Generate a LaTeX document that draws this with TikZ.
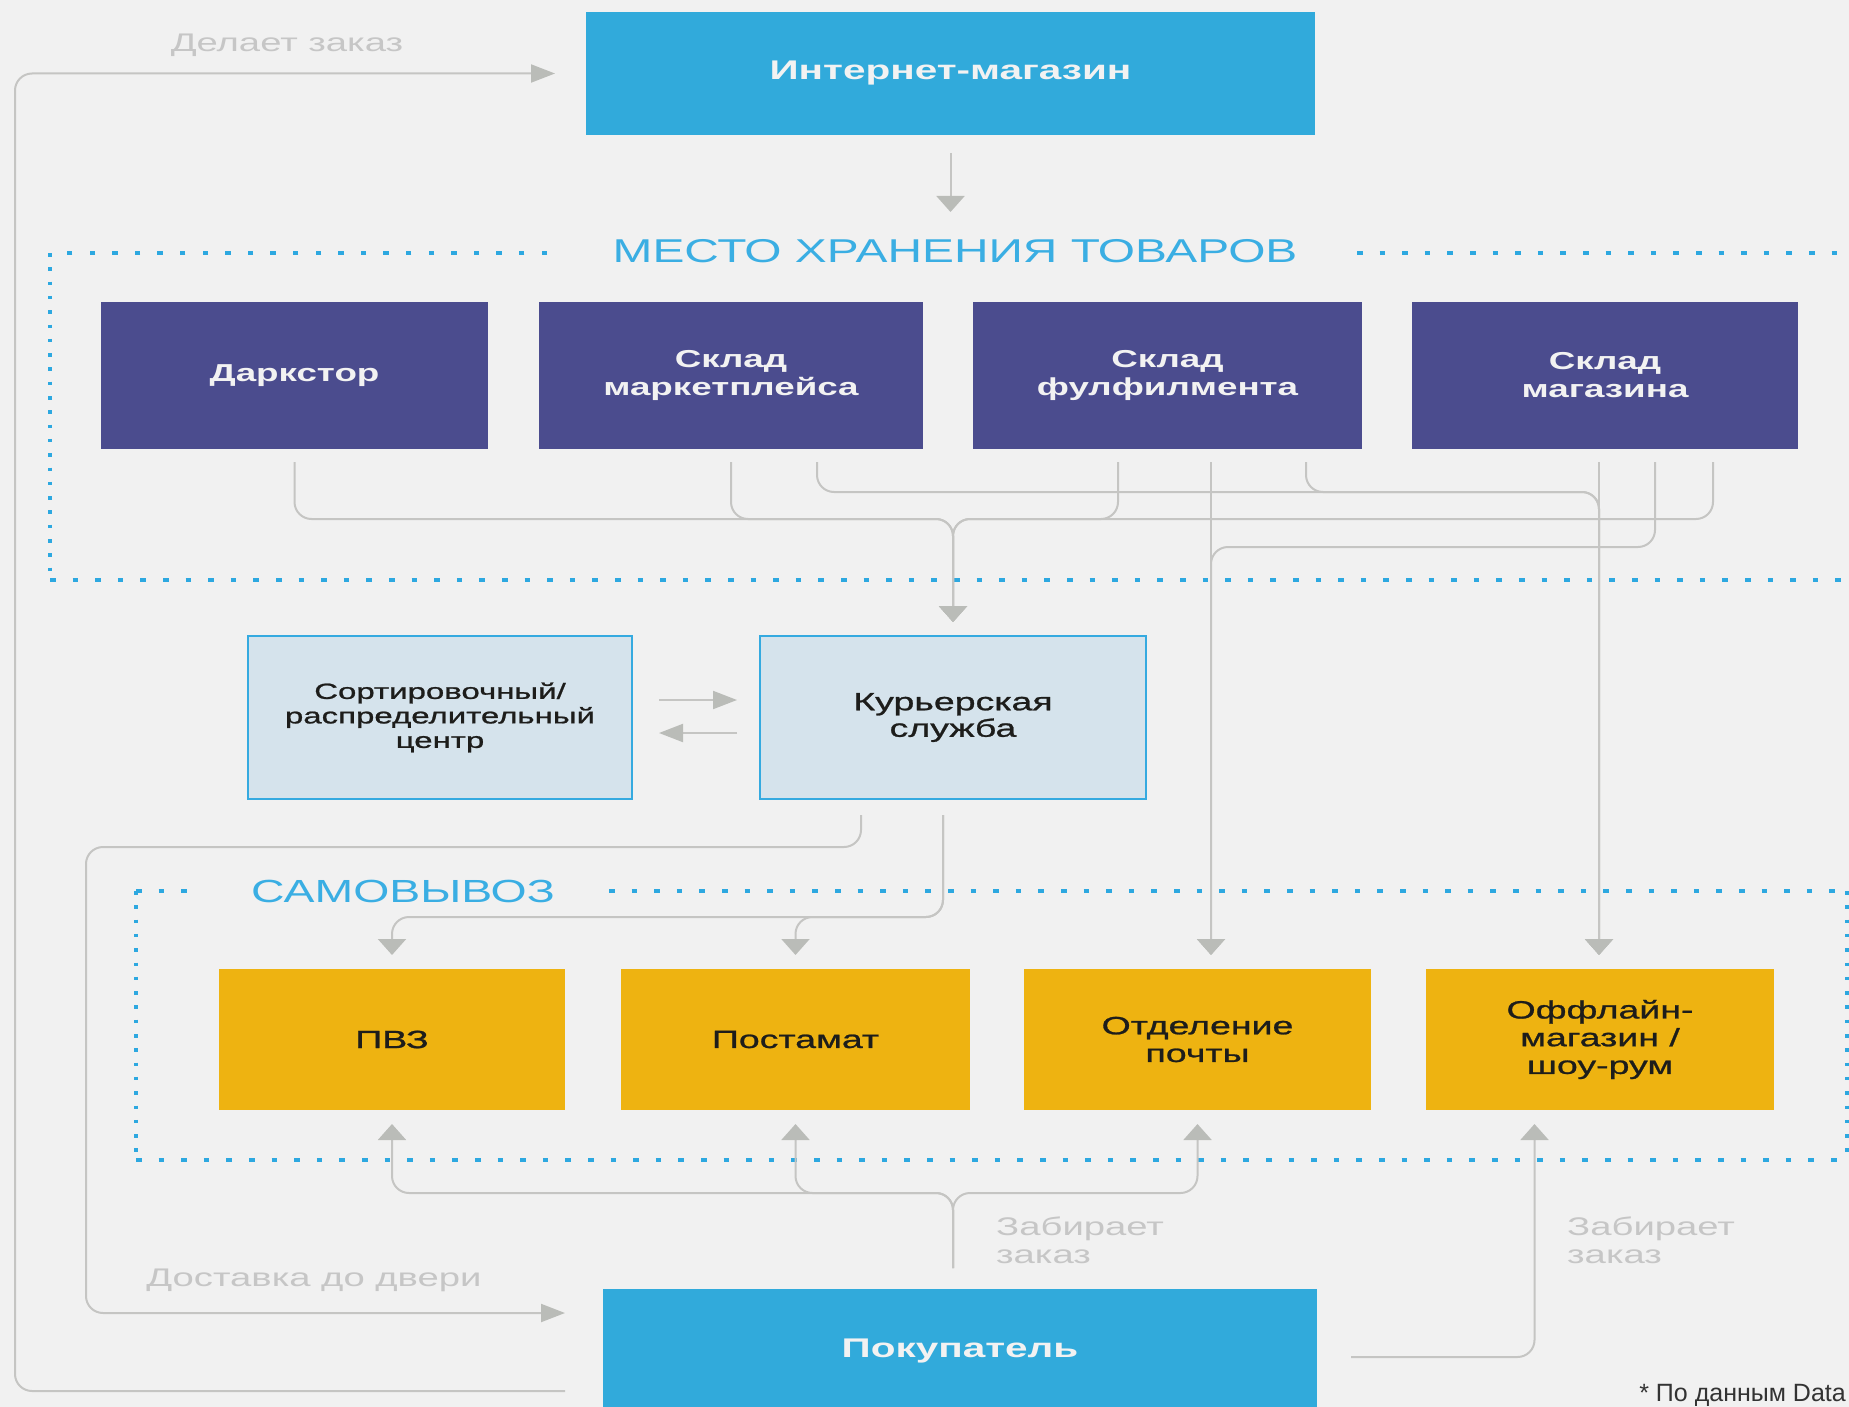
\documentclass[tikz,border=0pt]{standalone}
\usepackage{fontspec}
\setmainfont{Liberation Sans}
\newfontfamily\widefont[FakeStretch=1.5]{Liberation Sans}
\newfontfamily\medfont[FakeStretch=1.5,FakeBold=1.0]{Liberation Sans}
\newfontfamily\ttlfont[FakeStretch=1.45]{Liberation Sans}
\usetikzlibrary{arrows.meta,calc}
\definecolor{bgcol}{HTML}{F1F1F1}
\definecolor{shopblue}{HTML}{31AADB}
\definecolor{purp}{HTML}{4B4C8E}
\definecolor{lightfill}{HTML}{D5E3EC}
\definecolor{lightborder}{HTML}{35AAE0}
\definecolor{yel}{HTML}{EEB311}
\definecolor{linegray}{HTML}{C5C5C3}
\definecolor{arrowgray}{HTML}{BABCB8}
\definecolor{lblgray}{HTML}{C6C6C6}
\definecolor{dotblue}{HTML}{2DA8E0}
\definecolor{ttlblue}{HTML}{3AAEE3}
\definecolor{boxwhite}{HTML}{F2F2F2}
\definecolor{darktext}{HTML}{1D1D1B}
\definecolor{foot}{HTML}{333333}
\begin{document}
\begin{tikzpicture}[x=1pt,y=-1pt,
  basebox/.style={inner sep=0pt, outer sep=0pt, align=center},
  bluebox/.style={basebox, fill=shopblue, text=boxwhite, font=\widefont\bfseries\fontsize{27}{30}\selectfont},
  purplebox/.style={basebox, fill=purp, text=boxwhite, minimum height=147pt, font=\widefont\bfseries\fontsize{24.5}{28}\selectfont},
  lightbox/.style={basebox, fill=lightfill, draw=lightborder, line width=2.2pt, minimum height=163pt, text=darktext},
  yellowbox/.style={basebox, fill=yel, minimum height=141pt, text=darktext, font=\medfont\fontsize{25}{27.7}\selectfont},
  conn/.style={draw=linegray, line width=2pt, rounded corners=17pt},
  varr/.style={conn, -{Triangle[length=16pt,width=28pt,color=arrowgray]}},
  harr/.style={conn, -{Triangle[length=24pt,width=18pt,color=arrowgray]}},
  lbl/.style={inner sep=0pt, text=lblgray, font=\widefont\fontsize{25.5}{28}\selectfont},
  ttl/.style={inner sep=0pt, text=ttlblue},
  hdots/.style={draw=dotblue, line width=3.5pt, dash pattern=on 5.5pt off 17.1pt},
  vdots/.style={draw=dotblue, line width=3.5pt, dash pattern=on 3.5pt off 10.8pt}]
\useasboundingbox (0,0) rectangle (1849,1407);
\clip (0,0) rectangle (1849,1407);
\fill[bgcol] (0,0) rectangle (1849,1407);

% dotted frames
\draw[hdots] (547,253) -- (50,253);
\draw[vdots] (50,253) -- (50,580);
\draw[hdots] (50,580) -- (1852,580);
\draw[hdots] (1357,253) -- (1852,253);
\draw[hdots] (136,891) -- (188,891);
\draw[vdots] (136,891) -- (136,1160);
\draw[hdots] (136,1160) -- (1852,1160);
\draw[hdots] (609,891) -- (1852,891);
\draw[vdots] (1847,891) -- (1847,1160);

% titles
\node[ttl, font=\ttlfont\fontsize{33}{36}\selectfont] (t1) at (955,251) {МЕСТО ХРАНЕНИЯ ТОВАРОВ};
\node[ttl, font=\ttlfont\fontsize{32}{36}\selectfont] (t2) at (403,891) {САМОВЫВОЗ};

% boxes
\node[bluebox, minimum width=729pt, minimum height=123pt] (shop) at (950.5,73.5) {Интернет-магазин};
\node[purplebox, minimum width=387pt] (dark) at (294.5,375.5) {Даркстор};
\node[purplebox, minimum width=384pt] (mkt) at (731,375.5) {Склад\\маркетплейса};
\node[purplebox, minimum width=389pt] (ful) at (1167.5,375.5) {Склад\\фулфилмента};
\node[purplebox, minimum width=386pt] (store) at (1605,375.5) {Склад\\магазина};
\node[lightbox, minimum width=384pt, font=\medfont\fontsize{22}{24.5}\selectfont] (sort) at (440,717.5) {Сортировочный/\\распределительный\\центр};
\node[lightbox, minimum width=386pt, font=\medfont\fontsize{25}{26.5}\selectfont] (cour) at (953,717.5) {Курьерская\\служба};
\node[yellowbox, minimum width=346pt] (pvz) at (392,1039.5) {ПВЗ};
\node[yellowbox, minimum width=349pt] (post) at (795.5,1039.5) {Постамат};
\node[yellowbox, minimum width=347pt] (mail) at (1197.5,1039.5) {Отделение\\почты};
\node[yellowbox, minimum width=348pt] (off) at (1600,1039.5) {Оффлайн-\\магазин /\\шоу-рум};
\node[bluebox, minimum width=714pt, minimum height=124pt] (buyer) at (960,1351) {Покупатель};

% shop -> storage
\draw[varr] ([yshift=-18pt]shop.south) -- ([yshift=-77pt]shop.south);

% storage -> courier
\coordinate (J1) at (953,519);
\coordinate (C1) at ([yshift=14pt]cour.north);
\draw[varr] ([yshift=-13pt]dark.south) |- (J1) -- (C1);
\draw[varr] ([yshift=-13pt]mkt.south) |- (J1) -- (C1);
\draw[varr] ([xshift=-49.5pt,yshift=-13pt]ful.south) |- (J1) -- (C1);
\draw[varr] ([xshift=108pt,yshift=-13pt]store.south) |- (J1) -- (C1);

% storage -> offline shop
\coordinate (J2) at (1599,492);
\coordinate (O1) at ([xshift=-1pt,yshift=14pt]off.north);
\draw[varr] ([xshift=86pt,yshift=-13pt]mkt.south) |- (J2) -- (O1);
\draw[varr] ([xshift=138.5pt,yshift=-13pt]ful.south) |- (J2) -- (O1);
\draw[varr] ([xshift=-6pt,yshift=-13pt]store.south) -- (O1);

% storage -> post office
\coordinate (J3) at (1211,547);
\coordinate (M1) at ([xshift=13.5pt,yshift=14pt]mail.north);
\draw[varr] ([xshift=43.5pt,yshift=-13pt]ful.south) -- (M1);
\draw[varr] ([xshift=50pt,yshift=-13pt]store.south) |- (J3) -- (M1);

% sort <-> courier
\draw[harr] ($(sort.east)+(27,-17.5)$) -- ($(cour.west)+(-23,-17.5)$);
\draw[harr] ($(cour.west)+(-23,15.5)$) -- ($(sort.east)+(27,15.5)$);

% courier -> door delivery
\coordinate (D1) at (86,847);
\coordinate (D2) at ($(buyer.west)+(-38,-38)$);
\draw[harr] ([xshift=-92pt,yshift=-16pt]cour.south) |- (D1) |- (D2);

% courier -> pickup points
\coordinate (P0) at ([xshift=-10pt,yshift=-16pt]cour.south);
\draw[varr] (P0) |- ($(pvz.north)+(0,-52)$) -- ([yshift=14pt]pvz.north);
\draw[varr] (P0) |- ($(post.north)+(0,-52)$) -- ([yshift=14pt]post.north);

% buyer -> pickup
\coordinate (B0) at ([xshift=-7pt,yshift=21pt]buyer.north);
\draw[varr] (B0) |- ($(pvz.south)+(0,83)$) -- ([yshift=-14pt]pvz.south);
\draw[varr] (B0) |- ($(post.south)+(0,83)$) -- ([yshift=-14pt]post.south);
\draw[varr] (B0) |- ($(mail.south)+(0,83)$) -- ([yshift=-14pt]mail.south);
\draw[varr] ([xshift=34pt,yshift=-6pt]buyer.east) -| ([xshift=-65.5pt,yshift=-14pt]off.south);

% buyer -> shop (order)
\coordinate (E1) at (15,73.5);
\draw[harr] ($(buyer.west)+(-38,40)$) -| (E1) -- ([xshift=-31pt]shop.west);

% labels
\node[lbl] (l1) at (287,45) {Делает заказ};
\node[lbl] (l2) at (314,1280) {Доставка до двери};
\node[lbl, anchor=west, align=left] (l3) at (996,1240) {Забирает\\заказ};
\node[lbl, anchor=west, align=left] (l4) at (1567,1240) {Забирает\\заказ};
\node[anchor=base east, inner sep=0pt, text=foot, font=\fontsize{25}{28}\selectfont] (fn) at (1846,1401) {* По данным Data};
\end{tikzpicture}
\end{document}
